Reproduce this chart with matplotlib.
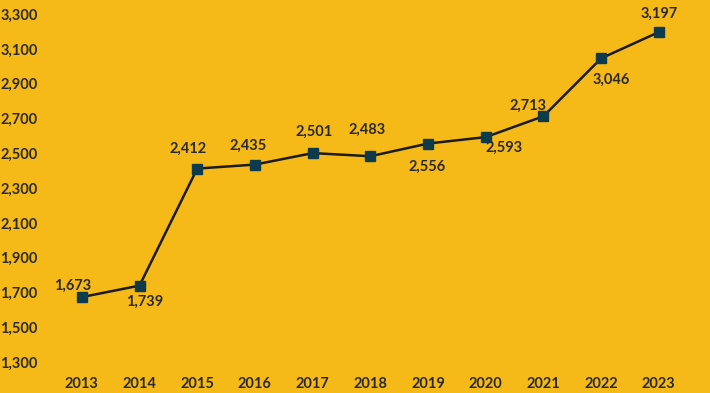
import matplotlib.pyplot as plt

years = [2013, 2014, 2015, 2016, 2017, 2018, 2019, 2020, 2021, 2022, 2023]
values = [1673, 1739, 2412, 2435, 2501, 2483, 2556, 2593, 2713, 3046, 3197]
# label offset from its point, in pixels (x right, y up)
label_dx = [-9, 5, -9, -7, 1, -3, -1, 18, -15, 10, 0]
label_dy = [11, -16, 20, 19, 21, 26, -23, -11, 10, -21, 18]

bg = "#F5BA18"
ink = "#2A2A2A"

plt.rcParams["font.family"] = ["Lato", "DejaVu Sans"]

fig = plt.figure(figsize=(7.1, 3.93), dpi=100, facecolor=bg)
ax = fig.add_axes([0.0746, 0.079, 0.894, 0.885], facecolor=bg)

ax.plot(years, values, color="#1B1B1B", lw=1.8, marker="s", ms=6.5,
        mfc="#0D3B4C", mec="#0D3B4C", zorder=3)

for x, y, dx, dy in zip(years, values, label_dx, label_dy):
    ax.annotate(f"{y:,}", (x, y), xytext=(dx, dy), textcoords="offset pixels",
                ha="center", va="center", fontsize=10.5, fontweight="bold",
                color=ink)

ax.set_xlim(2012.5, 2023.5)
ax.set_ylim(1300, 3300)
ax.set_xticks(years)
ax.set_yticks(range(1300, 3301, 200))
ax.yaxis.set_major_formatter(plt.FuncFormatter(lambda v, p: f"{int(v):,}"))

for s in ax.spines.values():
    s.set_visible(False)
ax.tick_params(length=0, labelsize=10.5, colors=ink)
ax.tick_params(axis="x", pad=11)
ax.tick_params(axis="y", pad=11)
for lbl in ax.get_xticklabels() + ax.get_yticklabels():
    lbl.set_fontweight("bold")

fig.savefig("out.png", dpi=100, facecolor=bg)
